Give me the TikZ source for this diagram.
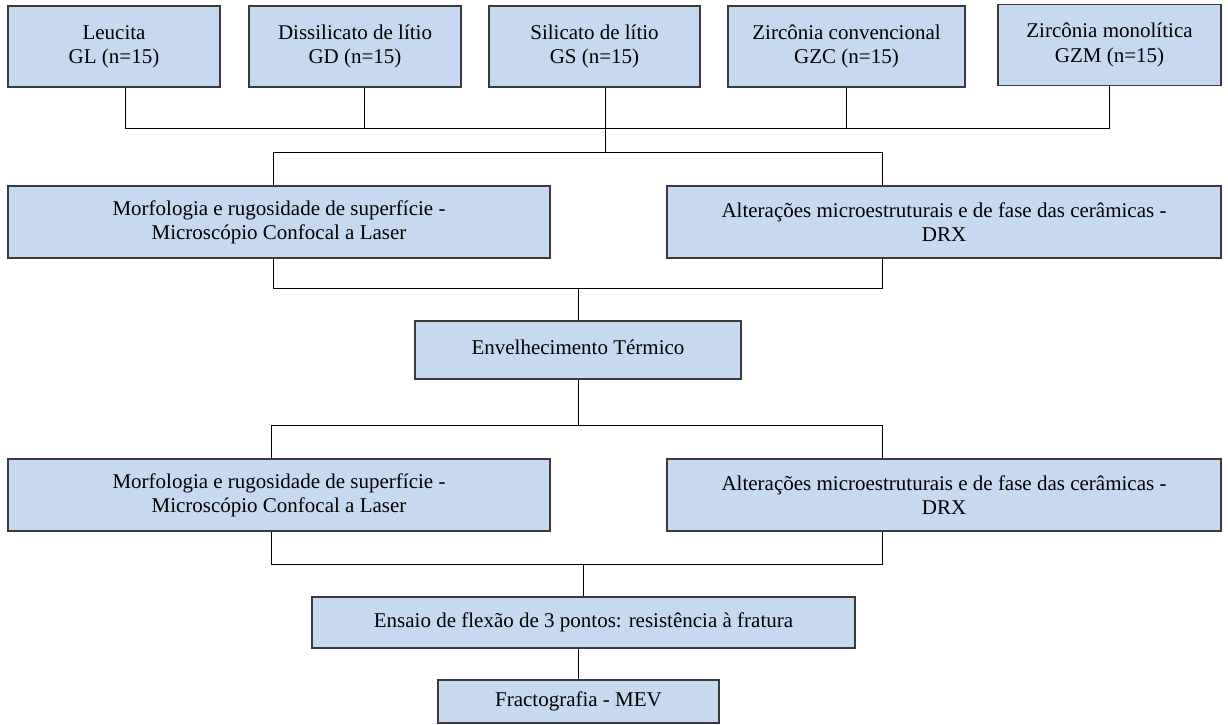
\documentclass[tikz,border=0pt]{standalone}
\usepackage{fontspec}
\setmainfont{Liberation Serif}
\usepackage{xcolor}
\usepackage{tikz}
\usetikzlibrary{positioning,calc}
\definecolor{cBox}{HTML}{C6D9F0}
\definecolor{cEdge}{HTML}{3A3A3A}
\tikzset{
  grp/.style  ={rectangle, draw=cEdge, line width=1.3pt, fill=cBox, align=center,
                font=\fontsize{21}{24.3}\selectfont, inner sep=0pt},
  ln/.style   ={draw=black, line width=1pt},
}

\begin{document}
\begin{tikzpicture}[x=1pt,y=-1pt]
  \useasboundingbox (0,0) rectangle (1228,724);
  % grupos
  \node[grp,minimum width=212,minimum height=81] (gl)  at (114,46.5)   {Leucita\\GL (n=15)};
  \node[grp,minimum width=212,minimum height=81] (gd)  at (355,46.5)   {Dissilicato de lítio\\GD (n=15)};
  \node[grp,minimum width=211,minimum height=81] (gs)  at (594.5,46.5) {Silicato de lítio\\GS (n=15)};
  \node[grp,minimum width=237,minimum height=81] (gzc) at (846.5,46.5) {Zircônia convencional\\GZC (n=15)};
  \node[grp,minimum width=223,minimum height=81] (gzm) at (1109.5,45)  {Zircônia monolítica\\GZM (n=15)};
  % analises antes
  \node[grp,minimum width=542,minimum height=72] (mc1)  at (279,222) {Morfologia e rugosidade de superfície -\\Microscópio Confocal a Laser};
  \node[grp,minimum width=554,minimum height=72] (drx1) at (944,222) {Alterações microestruturais e de fase das cerâmicas -\\DRX};
  \node[grp,minimum width=326,minimum height=58] (env)  at (578,350) {\raisebox{5pt}{Envelhecimento Térmico}};
  % analises depois
  \node[grp,minimum width=542,minimum height=72] (mc2)  at (279,495) {Morfologia e rugosidade de superfície -\\Microscópio Confocal a Laser};
  \node[grp,minimum width=554,minimum height=72] (drx2) at (944,495) {Alterações microestruturais e de fase das cerâmicas -\\DRX};
  \node[grp,minimum width=543,minimum height=51] (ens)  at (583.5,622.5) {Ensaio de flexão de 3 pontos: resistência à fratura};
  \node[grp,minimum width=281,minimum height=43] (fra)  at (578.5,701.5) {Fractografia - MEV};
  % barramentos
  \coordinate (b1L) at (125,128);  \coordinate (b1R) at (1109.5,128);
  \coordinate (b2L) at (273,152);  \coordinate (b2R) at (882,152);
  \coordinate (b3L) at (273,288);  \coordinate (b3R) at (882,288);
  \coordinate (b4L) at (271,425);  \coordinate (b4R) at (882,425);
  \coordinate (b5L) at (271,564);  \coordinate (b5R) at (882,564);
  \draw[ln](b1L)--(b1R);
  \draw[ln]([xshift=11]gl.south)--(b1L);
  \draw[ln]([xshift=9]gd.south)--([xshift=9]gd.south|-b1L);
  \draw[ln]([xshift=10.5]gs.south)--([xshift=10.5]gs.south|-b2L);
  \draw[ln](gzc.south)--(gzc.south|-b1L);
  \draw[ln](gzm.south)--(b1R);
  \draw[ln](mc1.north-|b2L)--(b2L)--(b2R)--(drx1.north-|b2R);
  \draw[ln](mc1.south-|b3L)--(b3L)--(b3R)--(drx1.south-|b3R);
  \draw[ln](env.north)--(env.north|-b3L);
  \draw[ln](env.south)--(env.south|-b4L);
  \draw[ln](mc2.north-|b4L)--(b4L)--(b4R)--(drx2.north-|b4R);
  \draw[ln](mc2.south-|b5L)--(b5L)--(b5R)--(drx2.south-|b5R);
  \draw[ln](ens.north)--(ens.north|-b5L);
  \draw[ln](ens.south-|fra.north)--(fra.north);
\end{tikzpicture}
\end{document}
